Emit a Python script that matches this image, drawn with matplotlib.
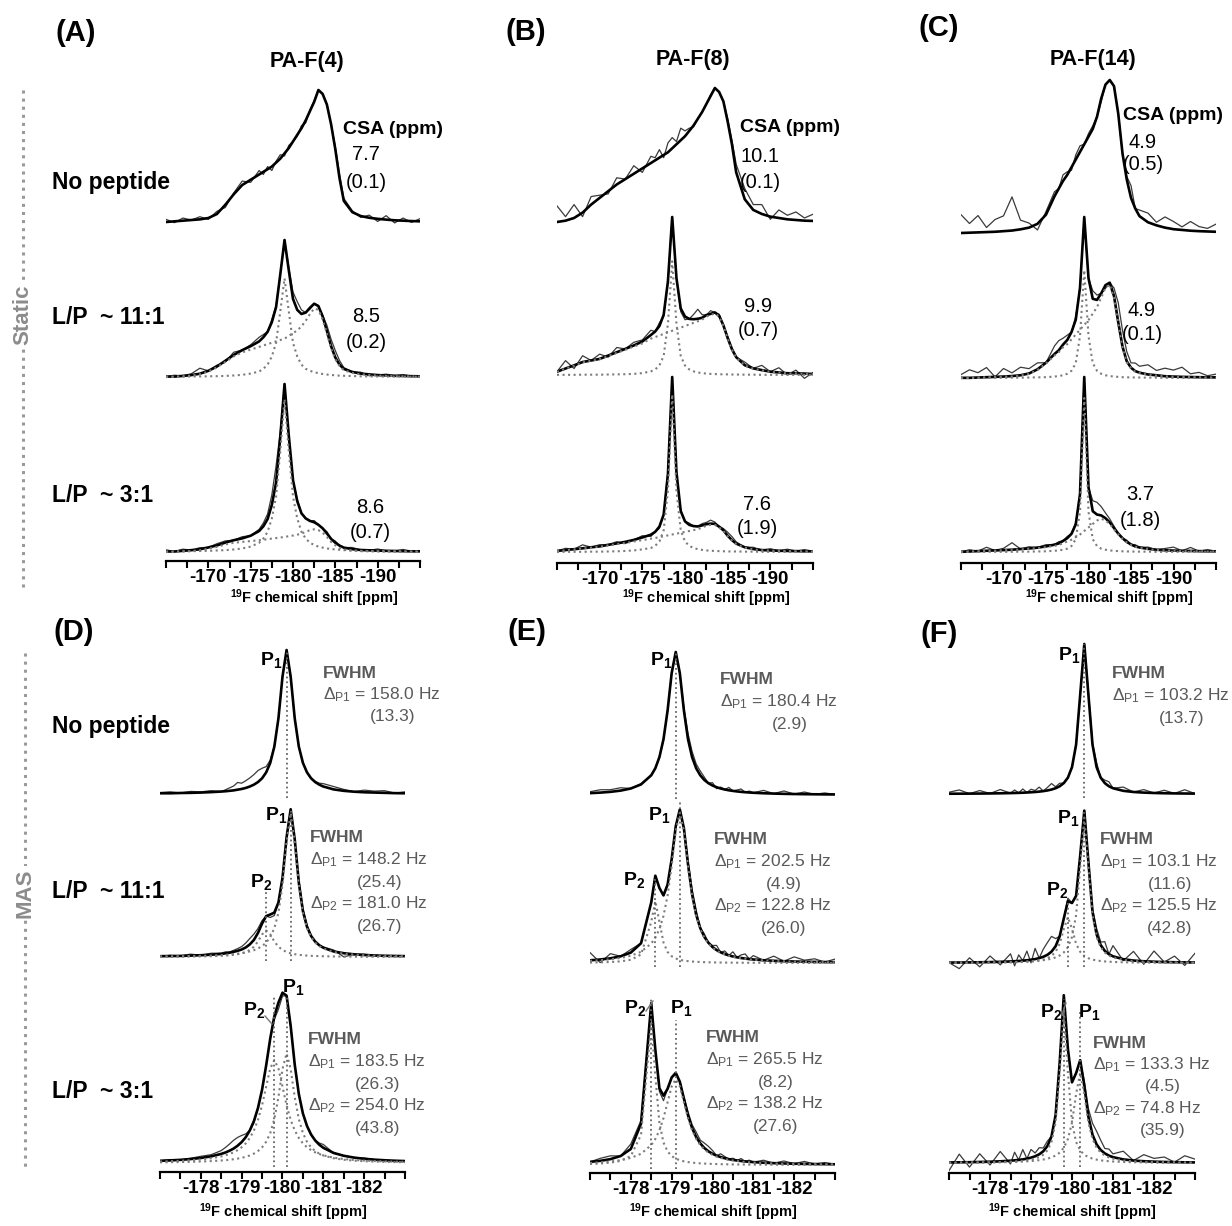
# -*- coding: utf-8 -*-
#%% libraries
import numpy as np
import matplotlib
matplotlib.use('Agg')
import matplotlib.pyplot as plt
from matplotlib.lines import Line2D

plt.rcParams['font.family'] = ['Liberation Sans', 'DejaVu Sans']
plt.rcParams['mathtext.fontset'] = 'custom'
plt.rcParams['mathtext.rm'] = 'Liberation Sans'
plt.rcParams['mathtext.bf'] = 'Liberation Sans:bold'
plt.rcParams['mathtext.it'] = 'Liberation Sans:italic'

#%% data
# chemical shift grids (ppm)
static_ppm = [-165, -166, -167, -168, -169, -170, -171, -172, -173, -174, -175, -176,
              -176.5, -177, -177.5, -178, -178.5, -179, -179.5, -180, -180.5, -181,
              -181.5, -182, -182.5, -183, -183.5, -184, -184.5, -185, -185.5, -186,
              -187, -188, -189, -190, -191, -192, -193, -194, -195]
mas_ppm = [-177, -177.25, -177.5, -177.75, -178, -178.25, -178.5,
           -178.6, -178.7, -178.8, -178.9, -179.0, -179.1, -179.2, -179.3, -179.4,
           -179.5, -179.6, -179.7, -179.8, -179.9, -180.0, -180.1, -180.2, -180.3,
           -180.4, -180.5, -180.6, -180.7, -180.8, -180.9, -181.0,
           -181.25, -181.5, -181.75, -182, -182.25, -182.5, -182.75, -183]

static_tick_labels = [-170, -175, -180, -185, -190]
mas_tick_labels = [-178, -179, -180, -181, -182]

# ---- static PA-F(4) ----
a_np_fit = [0.0, .005, .01, .015, .02, .03, .06, .13, .21, .28, .32, .36,
            .38, .40, .42, .45, .48, .52, .56, .61, .66, .71, .77, .84, .91, 1.0, .97, .89, .74, .55, .33, .16,
            .075, .045, .032, .024, .018, .013, .01, .007, .005]
a_np_resid = [.02, -.01, .02, 0, .02, -.01, .02, -.02, .01, .03, -.02, .03,
              -.02, .02, -.03, .01, .03, -.02, .02, 0, -.01, .02, -.02, .01, .01, 0, 0, 0, 0, .02, .03, .02,
              .01, -.01, .02, -.02, .03, -.02, .02, -.01, .02]
a11_broad = [0, 0, .005, .01, .02, .04, .07, .11, .15, .18, .20, .22,
             .23, .24, .25, .26, .27, .28, .30, .32, .34, .37, .41, .46, .50, .49, .42, .32, .21, .13, .08, .05,
             .03, .02, .015, .01, .008, .006, .005, .004, .003]
a11_sharp = [.003, .003, .003, .004, .004, .005, .006, .008, .011, .016, .025, .04,
             .06, .09, .15, .25, .48, .72, .48, .25, .15, .09, .06, .045, .035, .028, .022, .018, .015, .012, .01, .009,
             .007, .005, .004, .004, .003, .003, .003, .002, .002]
a11_resid = [0, .01, 0, .01, .04, 0, .01, -.01, .02, 0, .01, .03,
             .02, 0, .02, .01, 0, 0, .02, .05, .06, .03, 0, -.01, 0, 0, .01, .04, .05, .05, .03, .01,
             0, .01, -.01, 0, .01, 0, .01, 0, 0]
a3_broad = [0, 0, .003, .006, .01, .02, .03, .045, .055, .06, .065, .07,
            .073, .076, .08, .083, .086, .09, .094, .098, .103, .11, .12, .13, .135, .13, .115, .09, .06, .04, .025, .015,
            .008, .005, .004, .003, .002, .002, .001, .001, .001]
a3_sharp = [.003, .003, .004, .005, .006, .007, .009, .011, .015, .021, .032, .055,
            .08, .12, .2, .33, .6, .91, .6, .33, .2, .12, .08, .055, .042, .032, .026, .021, .018, .015, .013, .011,
            .009, .007, .006, .005, .005, .004, .004, .003, .003]
a3_resid = [.01, 0, .01, 0, .01, 0, .01, .01, 0, .01, 0, .01,
            .02, .03, .06, .1, .03, 0, -.02, 0, .01, 0, 0, 0, .01, 0, 0, .01, 0, .01, 0, 0,
            .01, 0, 0, .01, 0, 0, .01, 0, 0]

# ---- static PA-F(8) ----
b_np_fit = [0, .01, .03, .07, .13, .18, .23, .28, .32, .36, .40, .44,
            .46, .48, .50, .52, .55, .58, .61, .64, .68, .72, .77, .82, .88, .94, 1.0, .97, .9, .75, .58, .37,
            .17, .09, .06, .04, .03, .02, .015, .01, .008]
b_np_resid = [.12, .03, .1, -.03, .06, .02, -.02, .05, 0, .06, -.03, .05,
              .02, .06, -.02, .07, .08, .02, .09, .04, .02, -.01, 0, 0, 0, .01, 0, 0, 0, .02, .03, .06,
              .08, .04, .07, -.02, .06, .03, .06, .02, .05]
b11_broad = [.02, .04, .06, .08, .09, .10, .12, .14, .16, .18, .20, .23,
             .24, .25, .26, .27, .28, .29, .30, .31, .32, .33, .34, .35, .37, .38, .39, .37, .31, .23, .16, .11,
             .06, .04, .03, .02, .015, .01, .01, .008, .005]
b11_sharp = [.001, .001, .001, .002, .002, .002, .003, .004, .005, .007, .012, .023,
             .035, .06, .121, .323, .72, .323, .121, .06, .035, .023, .016, .012, .009, .007, .006, .005, .004, .004, .003, .003,
             .002, .002, .001, .001, .001, .001, .001, .001, .001]
b11_resid = [0, .05, -.02, .04, 0, .03, -.01, .03, 0, .02, .01, .03,
             0, .02, -.01, 0, 0, 0, -.02, -.02, 0, .03, .06, .02, 0, .02, 0, .01, 0, .01, .01, 0,
             .02, 0, .03, 0, .03, -.01, .02, -.03, .01]
b3_broad = [.005, .01, .015, .02, .025, .03, .038, .045, .052, .06, .068, .076,
            .08, .085, .09, .095, .10, .105, .11, .115, .12, .125, .13, .14, .15, .155, .155, .14, .12, .09, .065, .045,
            .025, .015, .01, .008, .006, .005, .004, .003, .003]
b3_sharp = [.001, .001, .001, .001, .002, .002, .003, .004, .006, .009, .015, .023,
            .035, .06, .124, .35, .9, .35, .124, .06, .035, .023, .016, .012, .009, .007, .006, .005, .004, .003, .003, .003,
            .002, .002, .001, .001, .001, .001, .001, .001, .001]
b3_resid = [0, .01, 0, .02, 0, .01, 0, .01, -.01, 0, .01, -.01,
            0, -.01, 0, .02, 0, 0, 0, 0, .01, 0, 0, .01, .01, .02, .01, 0, .01, .02, .02, .01,
            0, .01, 0, .01, 0, .01, 0, .01, 0]

# ---- static PA-F(14) ----
c_np_fit = [0, .002, .004, .006, .008, .012, .016, .024, .035, .06, .12, .24,
            .29, .34, .38, .43, .48, .53, .58, .63, .68, .76, .88, .97, 1.0, .96, .78, .52, .35, .23, .16, .11,
            .07, .05, .035, .025, .02, .015, .012, .01, .008]
c_np_resid = [.12, .06, .11, .03, .08, .1, .22, .06, .03, -.04, .02, .03,
              0, .04, .02, -.02, .03, .04, 0, .02, .02, 0, -.02, 0, 0, 0, 0, 0, .02, .08, 0, .04,
              .06, .02, .07, .05, .02, .06, .03, .02, .05]
c11_broad = [0, 0, .002, .004, .006, .008, .01, .015, .025, .05, .09, .14,
             .16, .19, .21, .24, .27, .30, .33, .36, .40, .44, .50, .56, .58, .50, .34, .19, .10, .06, .04, .03,
             .02, .015, .01, .008, .006, .005, .004, .003, .003]
c11_sharp = [.001, .001, .001, .001, .001, .001, .002, .002, .003, .004, .005, .009,
             .012, .017, .026, .045, .092, .26, .67, .26, .092, .045, .026, .017, .012, .009, .007, .005, .004, .004, .003, .003,
             .002, .002, .001, .001, .001, .001, .001, .001, .001]
c11_resid = [.02, .05, .03, .06, 0, .05, .02, .05, .03, .04, 0, .05,
             .06, .04, .03, 0, .02, 0, 0, 0, .05, .03, 0, -.02, 0, .05, .12, .1, .06, .03, .05, .04,
             .06, .03, .05, .04, .06, .02, .03, .01, .02]
c3_broad = [0, .002, .004, .006, .008, .01, .012, .015, .018, .022, .028, .035,
            .04, .05, .06, .07, .085, .10, .12, .14, .16, .18, .19, .18, .16, .13, .10, .075, .055, .04, .03, .024,
            .016, .012, .009, .007, .006, .005, .004, .003, .003]
c3_sharp = [.001, .001, .001, .001, .001, .001, .001, .002, .002, .003, .004, .007,
            .009, .013, .019, .034, .073, .23, .88, .23, .073, .034, .019, .013, .009, .007, .005, .004, .003, .003, .002, .002,
            .002, .001, .001, .001, .001, .001, .001, .001, .001]
c3_resid = [0, .01, 0, .02, 0, .01, .04, 0, .01, 0, .01, 0,
            .01, 0, .01, 0, .01, 0, 0, 0, .06, .07, .05, .03, .02, .01, 0, 0, .01, 0, .01, 0,
            .01, 0, .01, .02, 0, .02, 0, .01, 0]

# ---- MAS PA-F(4) ----
d_np_fit = [.005, .005, .007, .008, .010, .013, .017,
            .019, .022, .025, .030, .035, .042, .052, .065, .083, .109, .15, .216, .329, .524, .815, 1.0, .815, .524, .329,
            .216, .15, .109, .083, .065, .052,
            .032, .022, .016, .012, .010, .008, .006, .005]
d_np_resid = [.005, .01, 0, .01, .005, .01, 0,
              .01, .02, .03, .05, .04, .05, .06, .07, .08, .07, .04, .02, 0, 0, 0, 0, 0, 0, 0, 0, 0, 0, .005, .01, .02,
              .02, .01, 0, .015, .01, .015, 0, .01]
d11_p1 = [.004, .0045, .005, .0065, .008, .010, .013,
          .015, .017, .020, .023, .026, .031, .038, .046, .058, .074, .098, .135, .196, .30, .49, .78, .98, .78, .49,
          .30, .196, .135, .098, .074, .058,
          .034, .023, .016, .012, .009, .007, .006, .005]
d11_p2 = [.0015, .0019, .0023, .003, .004, .0055, .008,
          .0098, .012, .015, .019, .025, .034, .048, .07, .106, .154, .18, .154, .106, .07, .048, .034, .025, .019, .015,
          .012, .0098, .008, .0069, .006, .0051,
          .0037, .0028, .0022, .0018, .0015, .0012, .001, .0009]
d11_resid = [0, .005, 0, .01, 0, .01, .005,
             .01, .005, .01, .015, .02, .03, .04, .04, .03, .02, 0, -.02, -.02, 0, 0, 0, 0, 0, .02, .02, .01, 0, 0, 0, .005,
             .01, -.025, 0, .005, 0, 0, 0, 0]
d3_p1 = [.0041, .0049, .0058, .0071, .0089, .0114, .0151,
         .0171, .0196, .0226, .0264, .031, .0374, .0455, .0564, .072, .094, .128, .18, .264, .396, .566, .66, .566, .396,
         .264, .18, .128, .094, .072, .0564, .0455,
         .0287, .0196, .0143, .0108, .0085, .0068, .0056, .0047]
d3_p2 = [.009, .0108, .0132, .0166, .0214, .0284, .0397,
         .046, .054, .064, .0775, .095, .118, .151, .196, .26, .348, .46, .57, .62, .57, .46, .348, .26, .196, .151,
         .118, .095, .0775, .064, .054, .046,
         .032, .024, .0183, .0145, .0117, .0097, .0081, .0069]
d3_resid = [0, .005, 0, .005, .01, .01, .02,
            .03, .04, .05, .05, .04, .02, 0, -.01, 0, 0, 0, 0, -.02, -.04, -.02, 0, 0, 0, 0, 0, 0, 0, 0, .01, .02,
            0, 0, 0, .005, 0, 0, -.005, 0]

# ---- MAS PA-F(8) ----
e_np_fit = [.0129, .0166, .022, .0307, .0455, .074, .138,
            .187, .265, .39, .59, .852, 1.0, .852, .59, .39, .265, .187, .138, .105, .0826, .0664, .0544, .0455, .0385, .033,
            .0286, .025, .022, .0195, .0175, .0157,
            .0123, .0099, .0081, .0068, .0058, .005, .0043, .0038]
e_np_resid = [.01, .02, .015, .02, 0, .005, 0,
              0, 0, 0, 0, 0, 0, 0, .02, .04, .04, .03, .03, .02, 0, .02, -.01, .01, 0, .02, 0, .01, .02, 0, .01, 0,
              .02, 0, .02, 0, .015, 0, .01, 0]
e11_p1 = [.0144, .0182, .0238, .0326, .0466, .0724, .126,
          .163, .219, .304, .435, .626, .853, .97, .853, .626, .435, .304, .219, .163, .126, .099, .080, .066, .055, .0466,
          .040, .0348, .0304, .0269, .0238, .0214,
          .0166, .0132, .0108, .0089, .0075, .0065, .0056, .0049]
e11_p2 = [.003, .0043, .0064, .0106, .0206, .055, .265,
          .4, .265, .132, .071, .0437, .029, .0206, .0154, .0119, .0095, .0077, .0064, .0054, .0046, .004, .0035, .003,
          .0027, .0024, .0022, .002, .0018, .0016, .0015, .0014,
          .0011, .0009, .0008, .0007, .0006, .0005, .0005, .0004]
e11_resid = [.05, -.02, .03, 0, .02, 0, 0,
             0, 0, 0, 0, 0, 0, 0, 0, .02, .03, .03, 0, .02, 0, .01, .03, 0, .02, 0, .03, 0, .02, .03, 0, .025,
             0, .03, 0, .03, .01, .02, 0, .02]
e3_p2 = [.0064, .0092, .0143, .025, .0544, .183, .86,
         .54, .255, .136, .082, .0544, .0386, .0287, .0221, .0176, .0143, .0118, .01, .0085, .0074, .0064, .0056, .005,
         .0045, .004, .0036, .0033, .003, .0027, .0025, .0023,
         .0019, .0016, .0014, .0012, .001, .0009, .0008, .0007]
e3_p1 = [.0125, .016, .0212, .0294, .043, .068, .121,
         .158, .21, .284, .38, .476, .52, .476, .38, .284, .21, .158, .121, .0945, .0756, .0616, .051, .043, .0366,
         .0315, .0274, .024, .0212, .0189, .0169, .0152,
         .012, .0096, .0079, .0066, .0056, .0049, .0042, .0037]
e3_resid = [0, .015, .02, 0, .03, .02, 0,
            0, -.02, -.03, 0, 0, -.01, 0, .01, .02, .02, .03, .02, .03, .03, .02, 0, .02, .01, 0, .01, 0, .015, 0, .01, 0,
            .015, 0, .015, 0, .015, 0, .01, 0]

# ---- MAS PA-F(14) ----
f_np_fit = [.0018, .0021, .0025, .003, .0037, .0047, .006,
            .0068, .0076, .0086, .0099, .0115, .0134, .0159, .0192, .0236, .0297, .0385, .0516, .0727, .109, .179, .329,
            .662, 1.0, .662, .329, .179, .109, .0727, .0516, .0385,
            .0212, .0134, .0093, .0068, .0051, .004, .0033, .0027]
f_np_resid = [.01, .025, 0, .02, 0, .025, 0,
              .02, 0, .025, 0, .02, .01, .03, 0, .02, .04, .01, .02, 0, 0, 0, 0, 0, 0, .02, .01, .03, 0, .02, .03, 0,
              .025, 0, .02, 0, .02, 0, .025, 0]
f11_p1 = [.0017, .002, .0024, .0029, .0035, .0045, .0057,
          .0065, .0072, .0082, .0094, .0109, .0127, .0151, .0182, .0224, .0282, .0366, .049, .069, .104, .17, .313,
          .629, .95, .629, .313, .17, .104, .069, .049, .0366,
          .0201, .0127, .0088, .0065, .0048, .0038, .0031, .0026]
f11_p2 = [.001, .0012, .0015, .0019, .0024, .0032, .0044,
          .005, .0059, .007, .0084, .0103, .0129, .0167, .0223, .031, .0459, .073, .126, .222, .3, .222, .126, .073,
          .0459, .031, .0223, .0167, .0129, .0103, .0084, .007,
          .0047, .0033, .0025, .0019, .0015, .0012, .001, .0009]
f11_resid = [0, -.04, .03, -.03, .04, -.02, .05,
             -.03, .04, 0, .06, -.02, .07, 0, .05, .08, .1, .05, 0, 0, .02, 0, 0, 0, 0, 0, .02, .04, .02, .06, 0, .07,
             -.01, .06, -.02, .07, 0, .04, -.02, .06]
f3_p2 = [.0017, .0021, .0025, .0032, .0041, .0055, .0079,
         .0092, .0109, .0132, .0162, .0205, .0266, .0358, .0505, .077, .128, .246, .55, .93, .55, .246, .128, .077,
         .0505, .0358, .0266, .0205, .0162, .0132, .0109, .0092,
         .0063, .0046, .0035, .0028, .0022, .0018, .0015, .0013]
f3_p1 = [.0017, .002, .0024, .003, .0037, .0047, .0061,
         .0069, .0078, .0089, .0103, .0121, .0144, .0172, .0212, .0264, .0341, .0455, .063, .093, .146, .246, .42, .55,
         .42, .246, .146, .093, .063, .0455, .0341, .0264,
         .0157, .0103, .0073, .0054, .0042, .0034, .0027, .0023]
f3_resid = [-.05, .05, -.03, .05, -.02, .06, -.02,
            .05, 0, .06, 0, .05, .02, .04, .02, .03, 0, 0, 0, 0, 0, 0, 0, 0, .03, .05, .07, .08, .06, .03, .04, .02,
            .05, 0, .04, .02, .03, 0, .04, .02]

# peak positions (ppm) of the fitted MAS lines
d_peaks = [[-180.1], [-180.2, -179.6], [-180.1, -179.8]]
e_peaks = [[-179.1], [-179.2, -178.6], [-179.1, -178.5]]
f_peaks = [[-180.3], [-180.3, -179.9], [-180.2, -179.8]]

# annotation text
compounds = ['PA-F(4)', 'PA-F(8)', 'PA-F(14)']
row_labels = ['No peptide', 'L/P  ~ 11:1', 'L/P  ~ 3:1']
csa_A = [('7.7', '(0.1)'), ('8.5', '(0.2)'), ('8.6', '(0.7)')]
csa_B = [('10.1', '(0.1)'), ('9.9', '(0.7)'), ('7.6', '(1.9)')]
csa_C = [('4.9', '(0.5)'), ('4.9', '(0.1)'), ('3.7', '(1.8)')]
fwhm_D = [[('P1', '158.0', '(13.3)')], [('P1', '148.2', '(25.4)'), ('P2', '181.0', '(26.7)')],
          [('P1', '183.5', '(26.3)'), ('P2', '254.0', '(43.8)')]]
fwhm_E = [[('P1', '180.4', '(2.9)')], [('P1', '202.5', '(4.9)'), ('P2', '122.8', '(26.0)')],
          [('P1', '265.5', '(8.2)'), ('P2', '138.2', '(27.6)')]]
fwhm_F = [[('P1', '103.2', '(13.7)')], [('P1', '103.1', '(11.6)'), ('P2', '125.5', '(42.8)')],
          [('P1', '133.3', '(4.5)'), ('P2', '74.8', '(35.9)')]]

#%% sanity check on lengths
static_series = dict(a_np_fit=a_np_fit, a_np_resid=a_np_resid, a11_broad=a11_broad, a11_sharp=a11_sharp,
                     a11_resid=a11_resid, a3_broad=a3_broad, a3_sharp=a3_sharp, a3_resid=a3_resid,
                     b_np_fit=b_np_fit, b_np_resid=b_np_resid, b11_broad=b11_broad, b11_sharp=b11_sharp,
                     b11_resid=b11_resid, b3_broad=b3_broad, b3_sharp=b3_sharp, b3_resid=b3_resid,
                     c_np_fit=c_np_fit, c_np_resid=c_np_resid, c11_broad=c11_broad, c11_sharp=c11_sharp,
                     c11_resid=c11_resid, c3_broad=c3_broad, c3_sharp=c3_sharp, c3_resid=c3_resid)
mas_series = dict(d_np_fit=d_np_fit, d_np_resid=d_np_resid, d11_p1=d11_p1, d11_p2=d11_p2, d11_resid=d11_resid,
                  d3_p1=d3_p1, d3_p2=d3_p2, d3_resid=d3_resid,
                  e_np_fit=e_np_fit, e_np_resid=e_np_resid, e11_p1=e11_p1, e11_p2=e11_p2, e11_resid=e11_resid,
                  e3_p1=e3_p1, e3_p2=e3_p2, e3_resid=e3_resid,
                  f_np_fit=f_np_fit, f_np_resid=f_np_resid, f11_p1=f11_p1, f11_p2=f11_p2, f11_resid=f11_resid,
                  f3_p1=f3_p1, f3_p2=f3_p2, f3_resid=f3_resid)
bad = ['%s:%d' % (k, len(v)) for k, v in static_series.items() if len(v) != len(static_ppm)]
bad += ['%s:%d' % (k, len(v)) for k, v in mas_series.items() if len(v) != len(mas_ppm)]
if bad:
    raise ValueError('length mismatch ' + ', '.join(bad))

#%% figure
W, H = 1232, 1226
fig = plt.figure(figsize=(W / 100, H / 100), dpi=100)
GREY_TXT = '#5a5a5a'
DOT = '#7c7c7c'


def fx(x):
    return x / W


def fy(y):
    return 1 - y / H


def put(x, y, s, **kw):
    kw.setdefault('va', 'center')
    fig.text(fx(x), fy(y), s, **kw)


def make_axes(x0, x1, y_axis, y_top, xlim, ticks, labeled):
    ax = fig.add_axes([fx(x0), fy(y_axis), (x1 - x0) / W, (y_axis - y_top) / H])
    ax.set_xlim(xlim)
    ax.set_ylim(0, y_axis - y_top)
    for s in ['top', 'left', 'right']:
        ax.spines[s].set_visible(False)
    ax.spines['bottom'].set_linewidth(1.6)
    ax.set_yticks([])
    ax.set_xticks(ticks)
    ax.set_xticklabels([('%g' % t) if t in labeled else '' for t in ticks],
                       fontsize=13.5, fontweight='bold')
    ax.tick_params(axis='x', length=5, width=1.5, pad=1.0)
    ax.patch.set_alpha(0)
    return ax


def draw_spec(ax, ppm, y_axis, base, top, comps, resid, marks=()):
    off = y_axis - base
    sc = base - top
    x = np.array(ppm)
    fit = np.sum([np.array(c) for c in comps], axis=0)
    exp = fit + np.array(resid)
    ax.plot(x, off + sc * exp, color='#3a3a3a', lw=0.9, zorder=2)
    ax.plot(x, off + sc * fit, color='black', lw=1.9, zorder=3)
    if len(comps) > 1:
        for c in comps:
            ax.plot(x, off + sc * np.array(c), ls=':', color=DOT, lw=1.5, zorder=4)
    for pos, h in marks:
        ax.plot([pos, pos], [off - 4, off + sc * h], ls=':', color='#666666', lw=1.3, zorder=4)


static_ticks = [float(t) for t in np.arange(-165, -195.1, -2.5)]
mas_ticks = [float(t) for t in np.arange(-177, -183.05, -0.5)]

# ---- static row ----
static_layout = [
    dict(x0=166, x1=420, y_axis=561, rows=[(222, 90), (377, 240), (552, 384)],
         data=[[a_np_fit], [a11_sharp, a11_broad], [a3_sharp, a3_broad]],
         resid=[a_np_resid, a11_resid, a3_resid], csa=csa_A,
         csa_head=(343, 130), csa_pos=[(366, 155, 183), (366, 317, 343), (370, 508, 533)],
         letter=('(A)', 76, 33), title=(307, 62), xlab=314),
    dict(x0=557, x1=813, y_axis=563, rows=[(222, 88), (375, 217), (552, 377)],
         data=[[b_np_fit], [b11_sharp, b11_broad], [b3_sharp, b3_broad]],
         resid=[b_np_resid, b11_resid, b3_resid], csa=csa_B,
         csa_head=(740, 128), csa_pos=[(760, 157, 183), (758, 307, 330), (757, 505, 528)],
         letter=('(B)', 526, 32), title=(693, 60), xlab=706),
    dict(x0=961, x1=1216, y_axis=563, rows=[(233, 80), (378, 217), (552, 377)],
         data=[[c_np_fit], [c11_sharp, c11_broad], [c3_sharp, c3_broad]],
         resid=[c_np_resid, c11_resid, c3_resid], csa=csa_C,
         csa_head=(1123, 115), csa_pos=[(1143, 142, 165), (1142, 310, 335), (1140, 495, 520)],
         letter=('(C)', 939, 28), title=(1093, 60), xlab=1109),
]

for i, p in enumerate(static_layout):
    ax = make_axes(p['x0'], p['x1'], p['y_axis'], 70, (-165, -195), static_ticks, static_tick_labels)
    for (base, top), comps, res in zip(p['rows'], p['data'], p['resid']):
        draw_spec(ax, static_ppm, p['y_axis'], base, top, comps, res)
    put(p['letter'][1], p['letter'][2], p['letter'][0], ha='center', fontsize=21, fontweight='bold')
    put(p['title'][0], p['title'][1], compounds[i], ha='center', fontsize=15.5, fontweight='bold')
    put(p['csa_head'][0], p['csa_head'][1], 'CSA (ppm)', ha='left', fontsize=14, fontweight='bold')
    for (val, err), (cx, y1, y2) in zip(p['csa'], p['csa_pos']):
        put(cx, y1, val, ha='center', fontsize=14.5)
        put(cx, y2, err, ha='center', fontsize=14.5)
    put(p['xlab'], 598, '$^{\\mathbf{19}}$F chemical shift [ppm]', ha='center',
        fontsize=10.5, fontweight='bold')

# ---- MAS row ----
mas_layout = [
    dict(x0=160, x1=405, y_axis=1172, rows=[(794, 650), (957, 810), (1163, 997)],
         data=[[d_np_fit], [d11_p1, d11_p2], [d3_p1, d3_p2]],
         resid=[d_np_resid, d11_resid, d3_resid], peaks=d_peaks,
         mark_h=[[1.0], [1.0, 0.46], [1.0, 1.01]], fwhm=fwhm_D,
         fwhm_pos=[(323, 673), (310, 838), (308, 1040)],
         plabels=[[(282, 660, 'right')], [(287, 815, 'right'), (272, 882, 'right')],
                  [(282, 987, 'left'), (265, 1010, 'right')]],
         leader=((265, 1016), (272, 1024)),
         letter=('(D)', 74, 632), xlab=283),
    dict(x0=590, x1=835, y_axis=1173, rows=[(795, 652), (963, 808), (1165, 1000)],
         data=[[e_np_fit], [e11_p1, e11_p2], [e3_p1, e3_p2]],
         resid=[e_np_resid, e11_resid, e3_resid], peaks=e_peaks,
         mark_h=[[1.0], [1.05, 0.55], [0.88, 1.02]], fwhm=fwhm_E,
         fwhm_pos=[(720, 680), (714, 840), (706, 1038)],
         plabels=[[(672, 660, 'right')], [(670, 815, 'right'), (645, 880, 'right')],
                  [(670, 1008, 'left'), (646, 1008, 'right')]],
         leader=((646, 1011), (653, 1001)),
         letter=('(E)', 527, 632), xlab=713),
    dict(x0=949, x1=1195, y_axis=1173, rows=[(794, 644), (963, 810), (1163, 999)],
         data=[[f_np_fit], [f11_p1, f11_p2], [f3_p1, f3_p2]],
         resid=[f_np_resid, f11_resid, f3_resid], peaks=f_peaks,
         mark_h=[[1.0], [1.0, 0.4], [0.93, 1.0]], fwhm=fwhm_F,
         fwhm_pos=[(1112, 674), (1100, 840), (1093, 1043)],
         plabels=[[(1080, 655, 'right')], [(1079, 818, 'right'), (1068, 890, 'right')],
                  [(1078, 1012, 'left'), (1062, 1012, 'right')]],
         leader=((1062, 1015), (1066, 1003)),
         letter=('(F)', 939, 634), xlab=1072),
]

for p in mas_layout:
    ax = make_axes(p['x0'], p['x1'], p['y_axis'], 630, (-177, -183), mas_ticks, mas_tick_labels)
    for r, ((base, top), comps, res) in enumerate(zip(p['rows'], p['data'], p['resid'])):
        marks = list(zip(p['peaks'][r], p['mark_h'][r]))
        draw_spec(ax, mas_ppm, p['y_axis'], base, top, comps, res, marks)
        # peak labels
        for k, (lx, ly, ha) in enumerate(p['plabels'][r]):
            put(lx, ly, 'P$_\\mathbf{%d}$' % (k + 1), ha=ha, fontsize=14, fontweight='bold')
        # FWHM block
        fx0, fy0 = p['fwhm_pos'][r]
        put(fx0, fy0, 'FWHM', ha='left', fontsize=12.5, fontweight='bold', color=GREY_TXT)
        yy = fy0
        for name, val, err in p['fwhm'][r]:
            yy += 22
            put(fx0, yy, 'Δ$_\\mathrm{%s}$ = %s Hz' % (name, val), ha='left', fontsize=12.5,
                color=GREY_TXT)
            yy += 22
            put(fx0 + 70, yy, err, ha='center', fontsize=12.5, color=GREY_TXT)
    (lx0, ly0), (lx1, ly1) = p['leader']
    fig.add_artist(Line2D([fx(lx0), fx(lx1)], [fy(ly0), fy(ly1)], color='#777777', lw=1.0))
    put(p['letter'][1], p['letter'][2], p['letter'][0], ha='center', fontsize=21, fontweight='bold')
    put(p['xlab'], 1212, '$^{\\mathbf{19}}$F chemical shift [ppm]', ha='center',
        fontsize=10.5, fontweight='bold')

# row labels
for lab, y in zip(row_labels, [183, 317, 495]):
    put(52, y, lab, ha='left', fontsize=16.5, fontweight='bold')
for lab, y in zip(row_labels, [727, 892, 1092]):
    put(52, y, lab, ha='left', fontsize=16.5, fontweight='bold')

# side brackets
fig.add_artist(Line2D([fx(23), fx(23)], [fy(90), fy(590)], ls=':', color='#9a9a9a', lw=2.2))
fig.add_artist(Line2D([fx(25), fx(25)], [fy(653), fy(1168)], ls=':', color='#9a9a9a', lw=2.2))
put(23, 315, 'Static', ha='center', rotation=90, fontsize=16, fontweight='bold', color='#8c8c8c',
    bbox=dict(facecolor='white', edgecolor='none', pad=1.5))
put(25, 893, 'MAS', ha='center', rotation=90, fontsize=16, fontweight='bold', color='#8c8c8c',
    bbox=dict(facecolor='white', edgecolor='none', pad=1.5))

fig.savefig('out.png', dpi=100, facecolor='white')
